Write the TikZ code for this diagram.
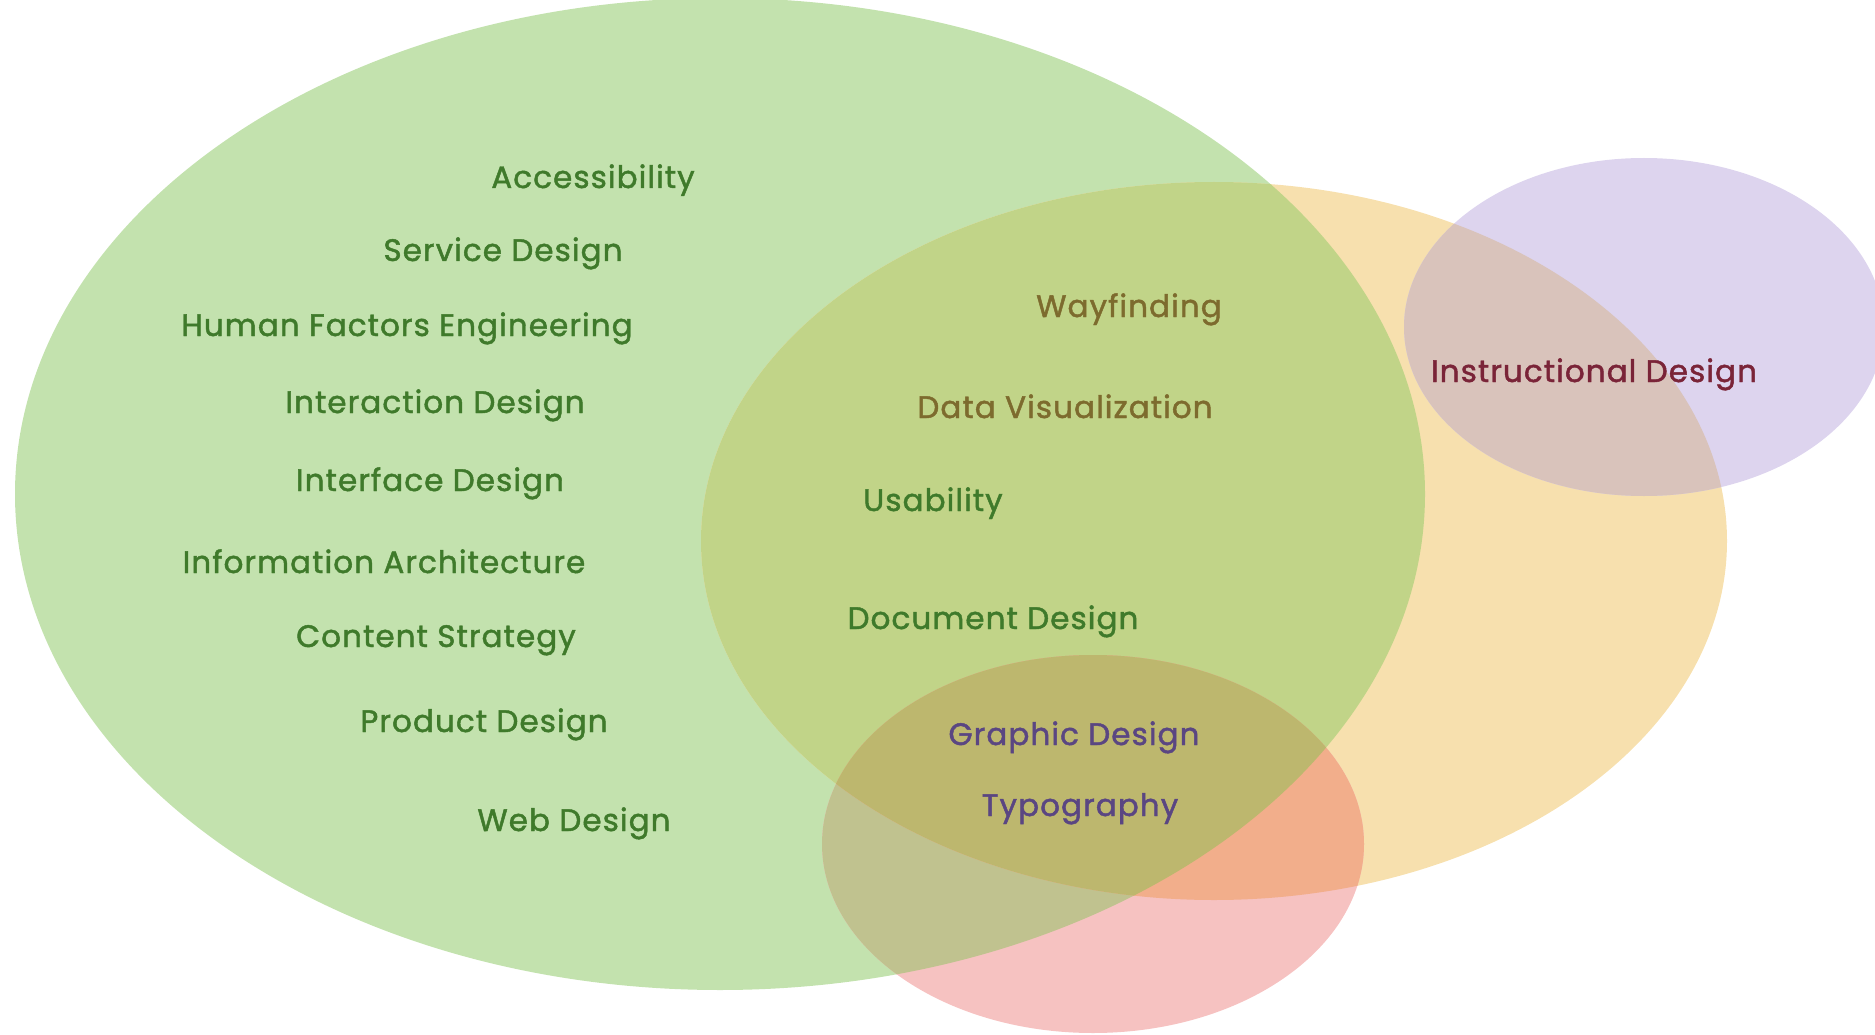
\documentclass[tikz,border=0pt]{standalone}
\usepackage{fontspec}
\setmainfont{Poppins}
\newfontfamily\lblfont{Poppins}[FakeBold=1.5, LetterSpace=3.5]
\definecolor{cg}{HTML}{C3E2AE}
\definecolor{cy}{HTML}{F7E0AE}
\definecolor{cp}{HTML}{DDD4EE}
\definecolor{ck}{HTML}{F6C2C1}
\definecolor{cgy}{HTML}{C1D488}
\definecolor{cyp}{HTML}{D9C3BB}
\definecolor{cgk}{HTML}{C0C28F}
\definecolor{cyk}{HTML}{F2AE8B}
\definecolor{cgyk}{HTML}{BDB76E}
\definecolor{tgreen}{HTML}{3F7A2B}
\definecolor{tolive}{HTML}{7D6B2E}
\definecolor{tpurple}{HTML}{5A4682}
\definecolor{tmaroon}{HTML}{7A2438}
\tikzset{
  x=1pt,y=1pt,
  lbl/.style={anchor=base, inner sep=0pt, font=\lblfont\fontsize{31}{37}\selectfont},
  lgreen/.style={lbl, text=tgreen},
  lolive/.style={lbl, text=tolive},
  lpurple/.style={lbl, text=tpurple},
  lmaroon/.style={lbl, text=tmaroon}
}
\newcommand{\ellG}{(720,-494) ellipse [x radius=705pt, y radius=496pt]}
\newcommand{\ellY}{(1214,-541) ellipse [x radius=513pt, y radius=359pt]}
\newcommand{\ellP}{(1644,-327) ellipse [x radius=240pt, y radius=169pt]}
\newcommand{\ellK}{(1093,-844) ellipse [x radius=271pt, y radius=189pt]}
\begin{document}
\begin{tikzpicture}
\useasboundingbox (0,0) rectangle (1875,-1035);
\clip (0,0) rectangle (1875,-1035);
% base ellipses
\fill[cg] \ellG;
\fill[cy] \ellY;
\fill[cp] \ellP;
\fill[ck] \ellK;
% pairwise overlaps
\begin{scope}
  \clip \ellG; \fill[cgy] \ellY;
\end{scope}
\begin{scope}
  \clip \ellY; \fill[cyp] \ellP;
\end{scope}
\begin{scope}
  \clip \ellG; \fill[cgk] \ellK;
\end{scope}
\begin{scope}
  \clip \ellY; \fill[cyk] \ellK;
\end{scope}
\begin{scope}
  \clip \ellG; \clip \ellY; \fill[cgyk] \ellK;
\end{scope}
% labels
\node[lgreen] (acc) at (593,-188) {Accessibility};
\node[lgreen] (svc) at (503,-261) {Service Design};
\node[lgreen] (hfe) at (407,-336) {Human Factors Engineering};
\node[lgreen] (ixd) at (435,-413) {Interaction Design};
\node[lgreen] (ifd) at (430,-491) {Interface Design};
\node[lgreen] (ia)  at (384,-573) {Information Architecture};
\node[lgreen] (cs)  at (436,-647) {Content Strategy};
\node[lgreen] (pd)  at (484,-732) {Product Design};
\node[lgreen] (wd)  at (574,-831) {Web Design};
\node[lolive] (way) at (1129,-317) {Wayfinding};
\node[lolive] (dv)  at (1065,-418) {Data Visualization};
\node[lgreen] (usa) at (933,-511) {Usability};
\node[lgreen] (dd)  at (993,-629) {Document Design};
\node[lpurple] (gd) at (1074,-745) {Graphic Design};
\node[lpurple] (typ) at (1080,-816) {Typography};
\node[lmaroon] (ins) at (1594,-382) {Instructional Design};
\end{tikzpicture}
\end{document}
